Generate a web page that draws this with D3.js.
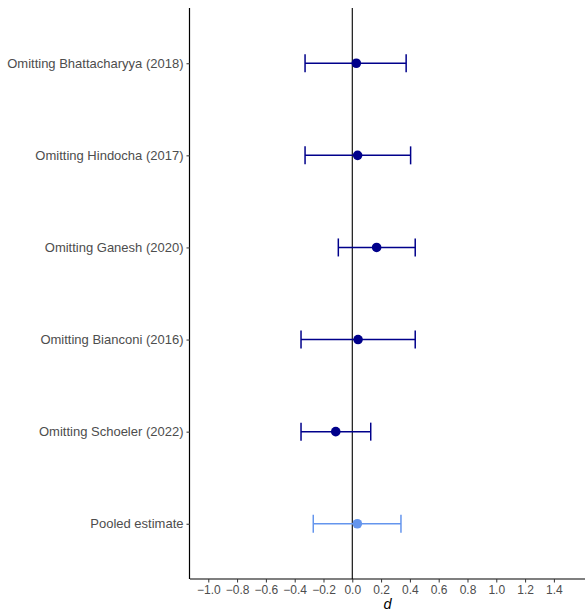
<!DOCTYPE html>
<html>
<head>
<meta charset="utf-8">
<script src="https://cdn.jsdelivr.net/npm/d3@7"></script>
<style>
  html, body { margin: 0; padding: 0; background: #fff; }
  svg { display: block; font-family: "Liberation Sans", Arial, Helvetica, sans-serif; }
</style>
</head>
<body>
<svg id="chart" width="585" height="614"></svg>
<script>
// Leave-one-out sensitivity analysis: effect size d with 95% CI
const labels = [
  "Omitting Bhattacharyya (2018)",
  "Omitting Hindocha (2017)",
  "Omitting Ganesh (2020)",
  "Omitting Bianconi (2016)",
  "Omitting Schoeler (2022)",
  "Pooled estimate"
];
const estimates = [0.028, 0.037, 0.169, 0.040, -0.115, 0.035];
const lower     = [-0.328, -0.328, -0.097, -0.356, -0.356, -0.271];
const upper     = [0.374, 0.405, 0.437, 0.437, 0.128, 0.338];
const isPooled  = [false, false, false, false, false, true];
const xTicks = [-1.0, -0.8, -0.6, -0.4, -0.2, 0.0, 0.2, 0.4, 0.6, 0.8, 1.0, 1.2, 1.4];

const rows = labels.map((label, i) => ({
  label, est: estimates[i], lo: lower[i], hi: upper[i], pooled: isPooled[i]
}));

const svg = d3.select("#chart");
const margin = { top: 8, right: 0, bottom: 35, left: 190 };
const width = 585, height = 614;

const x = d3.scaleLinear()
  .domain([-1.127, 1.616])
  .range([margin.left, width - margin.right]);

const y = d3.scalePoint()
  .domain(labels)
  .range([margin.top, height - margin.bottom])
  .padding(0.6);

const darkBlue = "#00008B";
const lightBlue = "#6495ED";

// Reference line at zero
svg.append("line")
  .attr("x1", x(0)).attr("x2", x(0))
  .attr("y1", margin.top).attr("y2", height - margin.bottom)
  .attr("stroke", "#000").attr("stroke-width", 1.1);

// Error bars
const capH = 9;
const g = svg.append("g");
rows.forEach(d => {
  const col = d.pooled ? lightBlue : darkBlue;
  const cy = y(d.label);
  g.append("line")
    .attr("x1", x(d.lo)).attr("x2", x(d.hi))
    .attr("y1", cy).attr("y2", cy)
    .attr("stroke", col).attr("stroke-width", 1.5);
  [d.lo, d.hi].forEach(v => {
    g.append("line")
      .attr("x1", x(v)).attr("x2", x(v))
      .attr("y1", cy - capH).attr("y2", cy + capH)
      .attr("stroke", col).attr("stroke-width", 1.5);
  });
  g.append("circle")
    .attr("cx", x(d.est)).attr("cy", cy).attr("r", 4.8)
    .attr("fill", col);
});

// X axis
const xAxis = svg.append("g")
  .attr("transform", `translate(0,${height - margin.bottom})`)
  .call(d3.axisBottom(x).tickValues(xTicks).tickFormat(d3.format(".1f")).tickSize(3.5).tickPadding(3));
xAxis.select(".domain").attr("stroke", "#000").attr("stroke-width", 1.2)
  .attr("d", `M${margin.left},0H${width}`);
xAxis.selectAll(".tick line").attr("stroke", "#333");
xAxis.selectAll(".tick text").attr("fill", "#4d4d4d").attr("font-size", 12)
  .text(d => d < 0 ? "\u2212" + d3.format(".1f")(-d) : d3.format(".1f")(d));

// Y axis
const yAxis = svg.append("g")
  .attr("transform", `translate(${margin.left},0)`)
  .call(d3.axisLeft(y).tickSize(3.5).tickPadding(3));
yAxis.select(".domain").attr("stroke", "#000").attr("stroke-width", 1.2)
  .attr("d", `M-0.5,${margin.top}V${height - margin.bottom}`);
yAxis.selectAll(".tick line").attr("stroke", "#333");
yAxis.selectAll(".tick text").attr("fill", "#4d4d4d").attr("font-size", 13);

// Axis title
svg.append("text")
  .attr("x", (margin.left + width) / 2)
  .attr("y", 609)
  .attr("text-anchor", "middle")
  .attr("font-style", "italic")
  .attr("font-size", 14.5)
  .attr("fill", "#000")
  .text("d");
</script>
</body>
</html>
